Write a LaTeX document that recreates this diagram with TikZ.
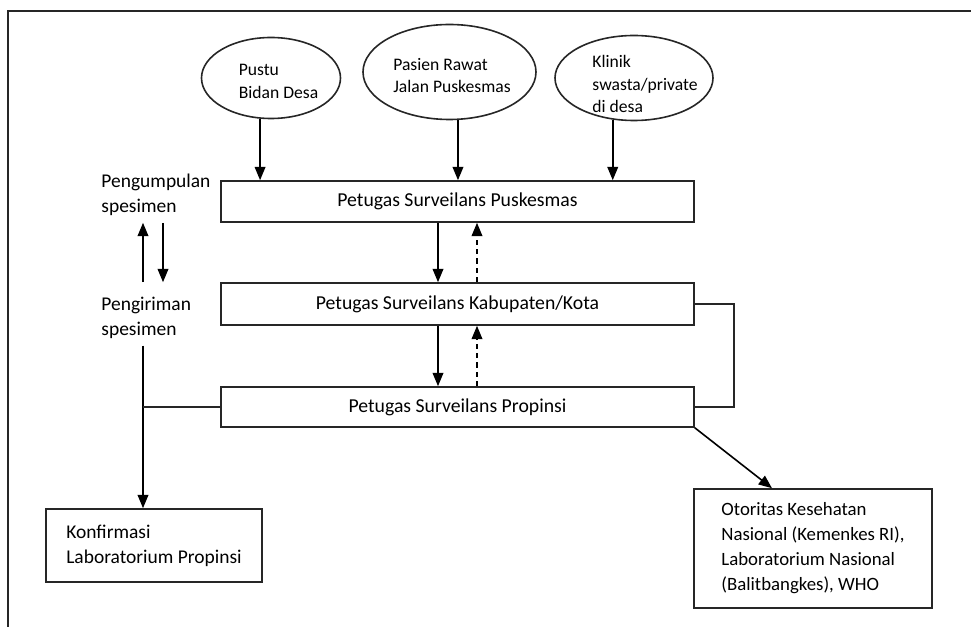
\documentclass[tikz,border=0pt]{standalone}
\usepackage{fontspec}
\setmainfont{Carlito}
\usetikzlibrary{shapes.geometric,arrows.meta,calc}
\begin{document}
\begin{tikzpicture}[x=0.75pt,y=-0.75pt,
  line width=1.2pt, draw=black!85,
  oval/.style={draw=black!85, ellipse, inner sep=0pt},
  ovaltext/.style={inner sep=0pt, font=\fontsize{13.2}{16.8}\selectfont, align=left},
  box/.style={draw=black!85, rectangle, inner sep=0pt, font=\fontsize{14.8}{18}\selectfont},
  tbox/.style={draw=black!85, rectangle, inner sep=0pt, font=\fontsize{14.6}{18.75}\selectfont, align=left},
  side/.style={inner sep=2pt, font=\fontsize{14.6}{18.75}\selectfont, align=left, anchor=west},
  arr/.style={draw=black, -{Triangle[length=10pt,width=8pt]}},
  darr/.style={arr, dash pattern=on 4pt off 3pt},
]
\useasboundingbox (0,0) rectangle (971,627);
\draw (8,627) -- (8,11) -- (971,11);

% source ellipses
\node[oval, minimum width=104.25pt, minimum height=60.75pt] (e1) at (271,78) {};
\node[oval, minimum width=129.75pt, minimum height=71.25pt] (e2) at (449.5,72) {};
\node[oval, minimum width=118.5pt, minimum height=63.75pt] (e3) at (634,78) {};
\node[ovaltext] (t1) at (278.5,81.5) {Pustu\\Bidan Desa};
\node[ovaltext] (t2) at (452,75.5) {Pasien Rawat\\Jalan Puskesmas};
\node[ovaltext] (t3) at (645,84) {Klinik\\swasta/private\\di desa};

% boxes
\node[box, minimum width=354.75pt, minimum height=30.75pt] (b1) at (457.5,201.5) {Petugas Surveilans Puskesmas};
\node[box, minimum width=354.75pt, minimum height=31.5pt] (b2) at (457.5,304) {Petugas Surveilans Kabupaten/Kota};
\node[box, minimum width=354.75pt, minimum height=30pt] (b3) at (457.5,407) {Petugas Surveilans Propinsi};

\node[tbox, minimum width=162pt, minimum height=54.75pt] (konf) at (154,545.5) {Konfirmasi\\Laboratorium Propinsi};
\node[tbox, minimum width=178.5pt, minimum height=89.25pt, font=\fontsize{14.1}{18.75}\selectfont] (otor) at (813,548.5) {Otoritas Kesehatan\\Nasional (Kemenkes RI),\\Laboratorium Nasional\\(Balitbangkes), WHO};

% side labels
\node[side] (lab1) at (98,194.5) {Pengumpulan\\spesimen};
\node[side] (lab2) at (98,317.5) {Pengiriman\\spesimen};

% arrows from sources
\draw[arr] (e1.255) -- (e1.255 |- b1.north);
\draw[arr] (e2.280) -- (e2.280 |- b1.north);
\draw[arr] (e3.243) -- (e3.243 |- b1.north);

% between boxes
\coordinate (s1) at ([xshift=-14.625pt]b1.south);
\coordinate (d1) at ([xshift=14.625pt]b2.north);
\coordinate (s2) at ([xshift=-14.625pt]b2.south);
\coordinate (d2) at ([xshift=14.625pt]b3.north);
\draw[arr] (s1) -- (s1 |- b2.north);
\draw[darr] (d1) -- (d1 |- b1.south);
\draw[arr] (s2) -- (s2 |- b3.north);
\draw[darr] (d2) -- (d2 |- b2.south);

% left specimen arrows
\coordinate (kx) at ([xshift=-8.25pt]konf.north);
\coordinate (dx) at ([xshift=6.75pt]konf.north);
\coordinate (ls) at ([yshift=-3pt]lab2.south);
\draw[arr] (kx |- b2.north) -- (kx |- b1.south);
\draw[arr] (dx |- b1.south) -- (dx |- b2.north);
\draw[arr] (kx |- ls) -- (kx);
\draw (b3.west) -- (b3.west -| kx);

% right bracket and diagonal
\draw (b2.east) -- ++(39,0) |- (b3.east);
\draw[arr] (b3.south east) -- ([xshift=-30.75pt]otor.north);
\end{tikzpicture}
\end{document}
